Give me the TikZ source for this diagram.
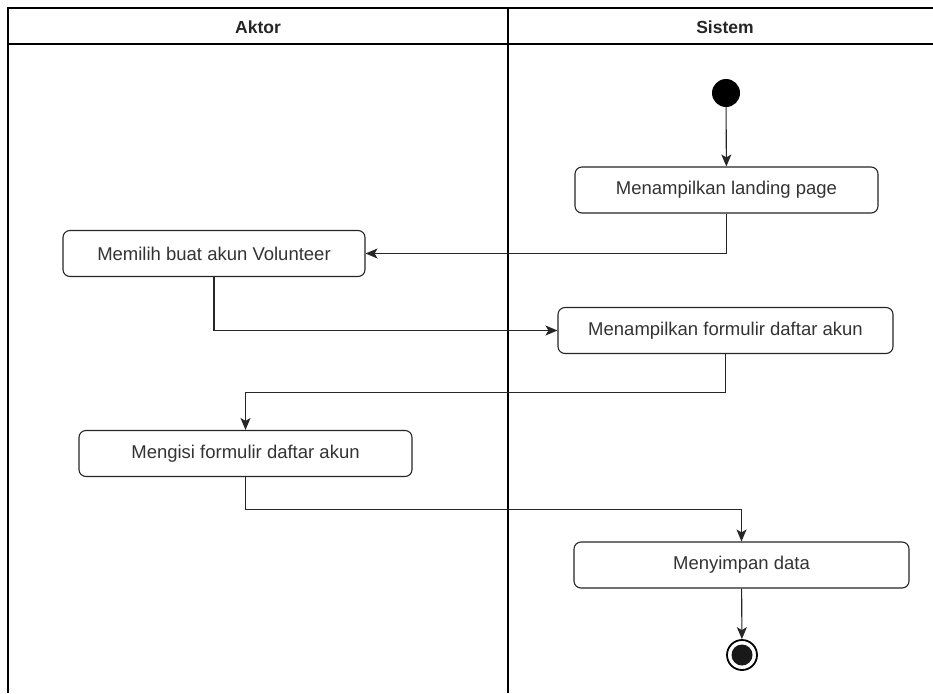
\documentclass[tikz,border=0pt]{standalone}
\usepackage{fontspec}
\setmainfont{Liberation Sans}
\usetikzlibrary{arrows.meta}
\definecolor{txt}{HTML}{333333}
\begin{document}
\begin{tikzpicture}[x=1pt,y=-1pt,
  lane/.style={line width=1.6pt,draw=black},
  act/.style={draw=black!85,line width=1.1pt,rounded corners=7pt,fill=white,
    font=\fontsize{18.5}{21}\selectfont,text=txt,minimum height=46pt,inner sep=0pt},
  flow/.style={draw=black!85,line width=1.1pt,-{Stealth[length=12pt,width=10pt,inset=3pt]}},
  hdr/.style={font=\fontsize{17.5}{20}\selectfont\bfseries,text=black!85}]
\useasboundingbox (0,0) rectangle (933,693);
\fill[white] (0,0) rectangle (933,693);
% swimlane frame
\draw[lane] (8,693) -- (8,8) -- (933,8);
\draw[lane] (8,44) -- (933,44);
\draw[lane] (508,8) -- (508,693);
\node[hdr] (hA) at (258,27) {Aktor};
\node[hdr] (hS) at (725,27) {Sistem};
% start and end
\node[circle,fill=black,minimum size=28pt,inner sep=0pt] (start) at (726,93) {};
\node[act,minimum width=303pt] (b1) at (726.5,190) {Menampilkan landing page};
\node[act,minimum width=302pt] (b2) at (214,253.5) {Memilih buat akun Volunteer};
\node[act,minimum width=335pt] (b3) at (725.5,330.5) {Menampilkan formulir daftar akun};
\node[act,minimum width=333pt] (b4) at (245.5,453.5) {Mengisi formulir daftar akun};
\node[act,minimum width=335pt] (b5) at (741.5,565) {Menyimpan data};
\node[circle,draw=black,line width=1.8pt,fill=white,minimum size=30pt,inner sep=0pt] (end) at (742,655) {};
\fill[black!90] (end.center) circle (10.5pt);
% flows
\draw[flow] (start) -- (b1);
\draw[flow] (b1.south) |- (b2.east);
\draw[flow] (b2.south) |- (b3.west);
\draw[flow] (b3.south) -- ++(0,38) -| (b4.north);
\draw[flow] (b4.south) -- ++(0,32) -| (b5.north);
\draw[flow] (b5) -- (end);
\end{tikzpicture}
\end{document}
